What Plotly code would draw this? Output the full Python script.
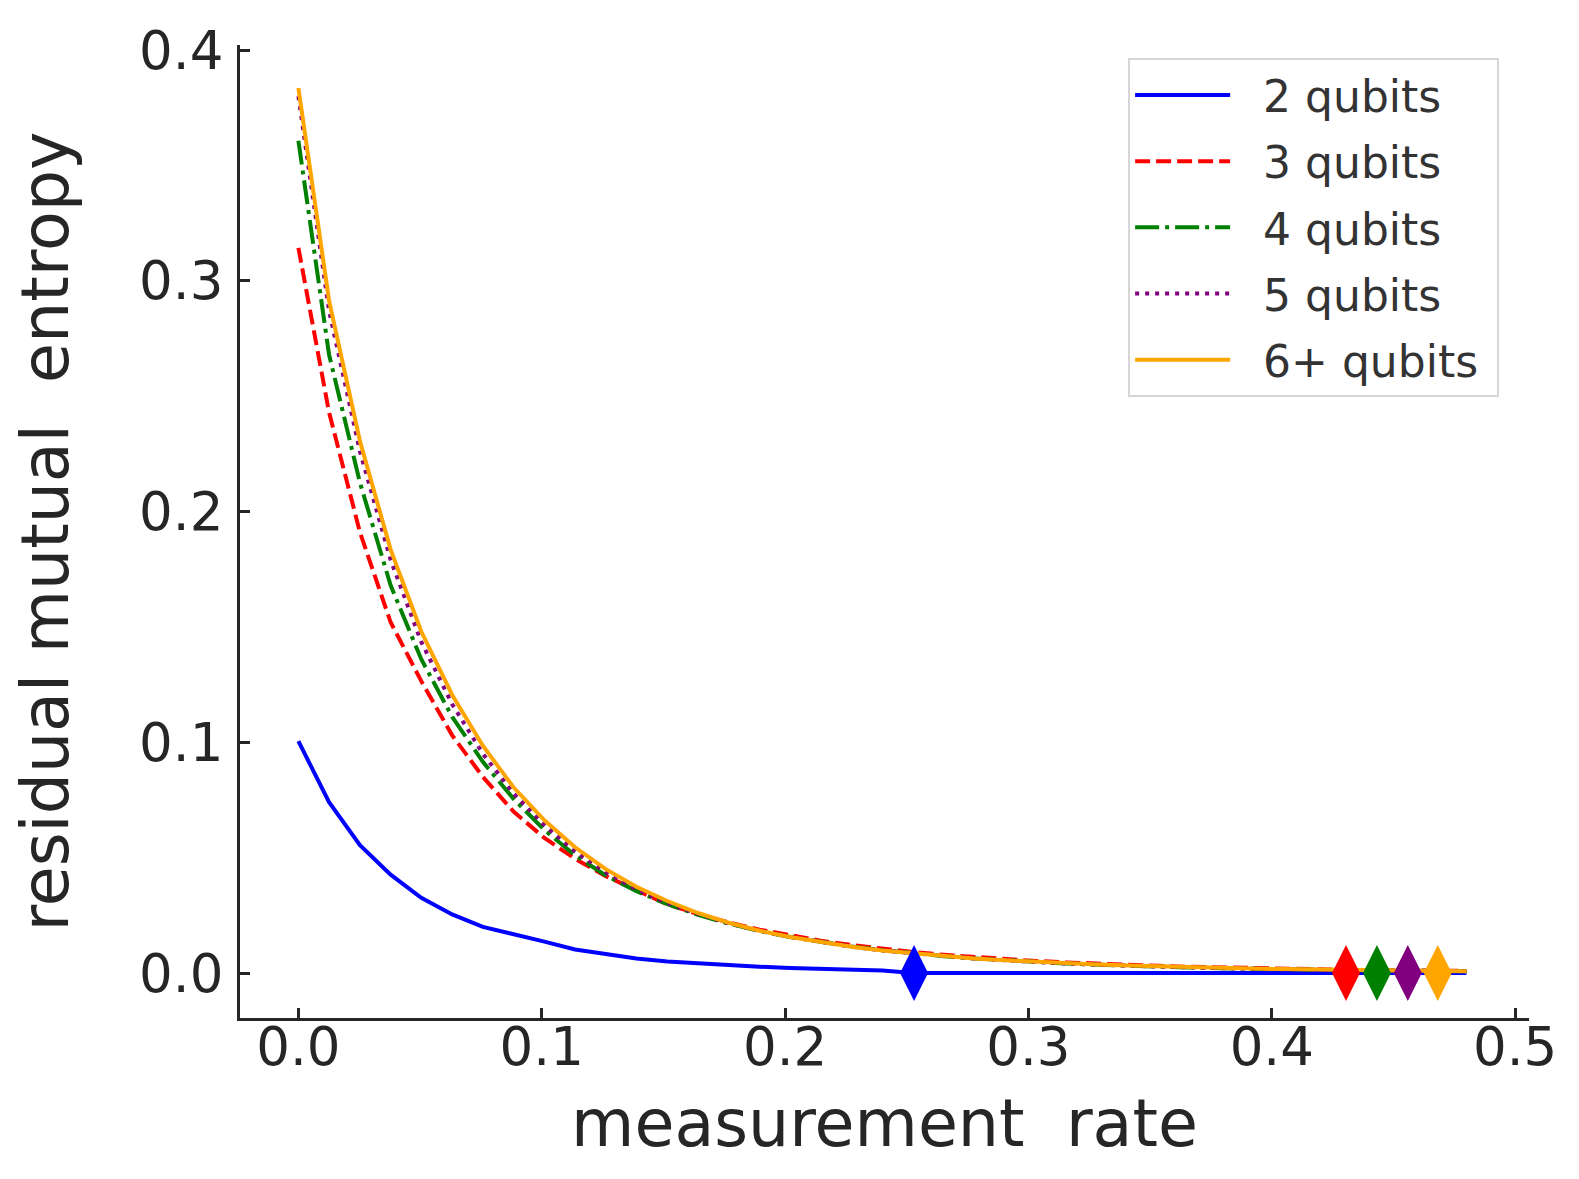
import plotly.graph_objects as go

# measurement rate grid
rate = [0.0, 0.0126, 0.0253, 0.0379, 0.0505, 0.0632, 0.0758, 0.0884, 0.1011, 0.1137,
        0.1263, 0.1389, 0.1516, 0.1642, 0.1768, 0.1895, 0.2021, 0.2147, 0.2274, 0.2400,
        0.2526, 0.2653, 0.2779, 0.2905, 0.3032, 0.3158, 0.3284, 0.3411, 0.3537, 0.3663,
        0.3789, 0.3916, 0.4042, 0.4168, 0.4295, 0.4421, 0.4547, 0.4674, 0.4800]

q2 = [0.1005, 0.0740, 0.0554, 0.0426, 0.0326, 0.0254, 0.0200, 0.0170, 0.0136, 0.0102,
      0.0082, 0.0063, 0.0050, 0.0041, 0.0033, 0.0027, 0.0022, 0.0018, 0.0014, 0.0011,
      0.0, 0.0, 0.0, 0.0, 0.0, 0.0, 0.0, 0.0, 0.0, 0.0,
      0.0, 0.0, 0.0, 0.0, 0.0, 0.0, 0.0, 0.0, 0.0]

q3 = [0.3143, 0.2430, 0.1910, 0.1520, 0.1265, 0.1030, 0.0850, 0.0700, 0.0585, 0.0495,
      0.0420, 0.0360, 0.0298, 0.0255, 0.0219, 0.0188, 0.0162, 0.0140, 0.0121, 0.0105,
      0.0091, 0.0079, 0.0069, 0.0060, 0.0052, 0.0046, 0.0040, 0.0035, 0.0031, 0.0027,
      0.0024, 0.0021, 0.0018, 0.0016, 0.0014, 0.0012, 0.0011, 0.0010, 0.0009]

q4 = [0.3607, 0.2680, 0.2125, 0.1680, 0.1360, 0.1110, 0.0915, 0.0755, 0.0620, 0.0510,
      0.0423, 0.0355, 0.0298, 0.0252, 0.0214, 0.0182, 0.0156, 0.0134, 0.0115, 0.0099,
      0.0085, 0.0073, 0.0063, 0.0055, 0.0047, 0.0041, 0.0036, 0.0031, 0.0027, 0.0024,
      0.0021, 0.0018, 0.0016, 0.0014, 0.0012, 0.0011, 0.0010, 0.0009, 0.0008]

q5 = [0.3800, 0.2870, 0.2260, 0.1790, 0.1435, 0.1165, 0.0950, 0.0778, 0.0640, 0.0527,
      0.0436, 0.0363, 0.0304, 0.0256, 0.0216, 0.0183, 0.0156, 0.0133, 0.0114, 0.0098,
      0.0085, 0.0073, 0.0063, 0.0055, 0.0047, 0.0041, 0.0036, 0.0031, 0.0027, 0.0024,
      0.0021, 0.0018, 0.0016, 0.0014, 0.0012, 0.0011, 0.0010, 0.0009, 0.0008]

q6 = [0.3836, 0.2914, 0.2305, 0.1835, 0.1480, 0.1205, 0.0985, 0.0805, 0.0662, 0.0545,
      0.0450, 0.0374, 0.0312, 0.0260, 0.0218, 0.0183, 0.0156, 0.0133, 0.0114, 0.0098,
      0.0085, 0.0073, 0.0063, 0.0055, 0.0048, 0.0042, 0.0037, 0.0032, 0.0028, 0.0025,
      0.0022, 0.0019, 0.0017, 0.0015, 0.0013, 0.0011, 0.0010, 0.0009, 0.0008]

# rate where each curve reaches zero (diamond markers)
critical_rate = [0.253, 0.4305, 0.4432, 0.4559, 0.4682]
critical_value = [0.0, 0.0, 0.0, 0.0, 0.0]

names = ['2 qubits', '3 qubits', '4 qubits', '5 qubits', '6+ qubits']
colors = ['#0000ff', '#ff0000', '#008000', '#800080', '#ffa500']
dashes = ['solid', '15px,6px', '24px,6px,4px,6px', '4px,6px', 'solid']
series = [q2, q3, q4, q5, q6]

fig = go.Figure()
for i in range(5):
    # nbsp's widen the gap between legend line and label, and the box on the right
    fig.add_trace(go.Scatter(x=rate, y=series[i], mode='lines',
                             name='\u00a0\u00a0' + names[i] + '\u00a0', legendgroup=names[i],
                             line=dict(color=colors[i], width=4, dash=dashes[i])))
for i in range(5):
    fig.add_trace(go.Scatter(x=[critical_rate[i]], y=[critical_value[i]], mode='markers',
                             showlegend=False, hoverinfo='skip',
                             marker=dict(symbol='diamond-tall', size=40, color=colors[i],
                                         line=dict(width=0))))

axis_common = dict(showline=True, linecolor='#262626', linewidth=3, mirror=False,
                   ticks='inside', ticklen=10, tickwidth=2.5, tickcolor='#262626',
                   showgrid=False, zeroline=False, tickformat='.1f',
                   tickfont=dict(family='DejaVu Sans', size=53, color='#262626'))

# page body has an 8px margin, so the figure is sized to fit inside it
fig.update_layout(
    width=1563, height=1163,
    margin=dict(l=232, r=42, t=27, b=153),
    paper_bgcolor='white', plot_bgcolor='white',
    font=dict(family='DejaVu Sans', color='#262626'),
    xaxis=dict(range=[-0.024, 0.5057], tickvals=[0.0, 0.1, 0.2, 0.3, 0.4, 0.5],
               ticklabelstandoff=-20,
               title=dict(text='measurement\u00a0 rate', standoff=25,
                          font=dict(family='DejaVu Sans', size=65, color='#262626')),
               **axis_common),
    yaxis=dict(range=[-0.0195, 0.4022], tickvals=[0.0, 0.1, 0.2, 0.3, 0.4],
               ticklabelstandoff=3,
               title=dict(text='residual mutual\u00a0 entropy', standoff=52,
                          font=dict(family='DejaVu Sans', size=65, color='#262626')),
               **axis_common),
    legend=dict(x=0.689, y=0.9868, xanchor='left', yanchor='top',
                bgcolor='white', bordercolor='#d6d6d6', borderwidth=2,
                font=dict(family='DejaVu Sans', size=44, color='#333333'),
                itemwidth=95, tracegroupgap=6, traceorder='grouped'),
)

fig.write_html('out.html')
